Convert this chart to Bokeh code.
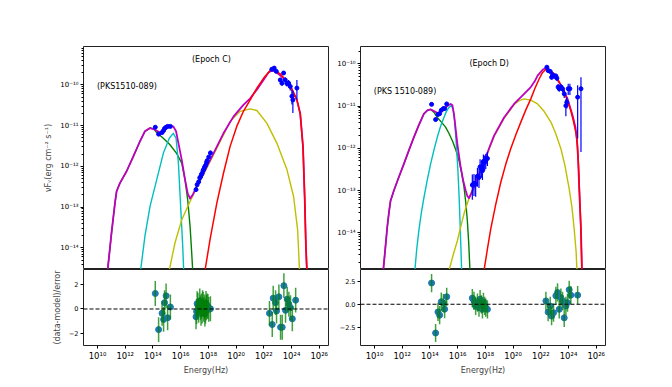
import numpy as np
from bokeh.plotting import figure
from bokeh.layouts import row, column
from bokeh.models import (FixedTicker, CustomJSTickFormatter, Label, Span, Range1d)
from bokeh.embed import file_html
from bokeh.resources import INLINE

FONT = "DejaVu Sans"

# ---------------- Epoch C (left) : model curves, log10(nu) / log10(nuFnu)
c_tot_x = [10.73, 11.01, 11.26, 11.38, 11.62, 12.10, 12.58, 13.06, 13.42, 13.79, 14.15, 14.51,
           14.87, 15.23, 15.47, 15.67, 15.84, 16.08, 16.32, 16.51, 16.68, 16.87, 17.16, 17.64,
           18.37, 19.09, 19.81, 20.53, 21.02, 21.50, 21.98, 22.34, 22.58, 22.82, 23.43, 23.91,
           24.39, 24.63, 24.83, 24.95, 25.04, 25.11]
c_tot_y = [-14.55, -13.64, -12.90, -12.61, -12.41, -12.12, -11.76, -11.39, -11.14, -11.06, -11.10,
           -11.17, -11.06, -11.02, -11.02, -11.14, -11.43, -11.84, -12.33, -12.66, -12.79, -12.70,
           -12.49, -12.17, -11.68, -11.19, -10.78, -10.49, -10.33, -10.12, -9.88, -9.70, -9.65,
           -9.67, -9.84, -10.04, -10.37, -10.70, -11.51, -12.74, -13.96, -14.55]
c_syn_x = [10.73, 11.01, 11.26, 11.38, 11.62, 12.10, 12.58, 13.06, 13.42, 13.79, 14.05, 14.27,
           14.75, 15.23, 15.71, 16.08, 16.32, 16.51, 16.68, 16.80, 16.87]
c_syn_y = [-14.55, -13.64, -12.90, -12.61, -12.41, -12.12, -11.76, -11.39, -11.14, -11.06, -11.08,
           -11.17, -11.31, -11.47, -11.68, -11.92, -12.33, -12.82, -13.47, -14.13, -14.55]
c_disk_x = [13.11, 13.42, 13.79, 14.27, 14.75, 15.18, 15.47, 15.67, 15.84, 16.00, 16.15, 16.22]
c_disk_y = [-14.55, -13.72, -12.98, -12.33, -11.68, -11.31, -11.19, -11.31, -11.92, -12.98, -13.96,
            -14.55]
c_ssc_x = [15.18, 15.59, 16.08, 16.63, 17.16, 17.64, 18.37, 19.09, 19.57, 20.29, 21.02, 21.50,
           22.22, 22.94, 23.67, 24.15, 24.44, 24.58]
c_ssc_y = [-14.55, -13.88, -13.31, -12.90, -12.52, -12.21, -11.72, -11.23, -10.90, -10.65, -10.59,
           -10.63, -10.94, -11.43, -12.08, -12.74, -13.55, -14.55]
c_ec_x = [17.76, 18.12, 18.61, 19.09, 19.57, 20.05, 20.53, 21.02, 21.50, 21.98, 22.46, 22.70,
          23.19, 23.91, 24.39, 24.63, 24.83, 24.95, 25.04, 25.11]
c_ec_y = [-14.55, -13.80, -12.90, -12.17, -11.51, -11.02, -10.65, -10.37, -10.08, -9.84, -9.65,
          -9.63, -9.73, -10.02, -10.37, -10.72, -11.53, -12.76, -13.97, -14.55]

# Epoch C data points
c_dat_x = [14.17, 14.41, 14.66, 14.77, 14.84, 14.95, 15.06, 15.26,
           17.11, 17.19, 17.30, 17.38, 17.43, 17.50, 17.55, 17.62, 17.67, 17.72, 17.79, 17.86,
           17.91, 18.03, 18.15,
           22.58, 22.75, 22.90, 23.19, 23.43, 23.31, 23.55, 23.67, 23.79, 23.91, 24.03, 24.10,
           24.39]
c_dat_y = [-11.04, -11.21, -11.17, -11.12, -11.07, -11.04, -11.02, -11.02,
           -12.57, -12.45, -12.38, -12.28, -12.26, -12.20, -12.17, -12.10, -12.07, -12.02, -11.98,
           -11.91, -11.86, -11.77, -11.67,
           -9.62, -9.59, -9.67, -9.88, -9.71, -9.96, -9.88, -9.97, -9.96, -10.04, -10.28, -10.37,
           -10.08]
c_dat_elo = [0.03] * 8 + [0.05] * 15 + \
            [0.04, 0.04, 0.04, 0.05, 0.05, 0.06, 0.06, 0.07, 0.08, 0.10, 0.20, 0.32, 0.28]
c_dat_ehi = [0.03] * 8 + [0.05] * 15 + \
            [0.04, 0.04, 0.04, 0.05, 0.05, 0.06, 0.06, 0.07, 0.08, 0.10, 0.15, 0.22, 0.20]

# Epoch C residuals
c_res_x = [14.17, 14.41, 14.66, 14.77, 14.84, 14.95, 15.06, 15.26,
           17.11, 17.15, 17.19, 17.25, 17.30, 17.38, 17.43, 17.47, 17.50, 17.55, 17.58, 17.62,
           17.67, 17.72, 17.75, 17.79, 17.83, 17.86, 17.91, 17.97, 18.03, 18.15,
           22.41, 22.61, 22.68, 22.85, 22.92, 23.09, 23.21, 23.33, 23.45, 23.57, 23.69, 23.81,
           23.93, 24.06, 24.30]
c_res_y = [1.25, -1.66, -0.35, -0.84, 0.51, 1.06, -0.71, 0.16,
           -0.63, -0.20, 0.43, 0.30, -0.11, 0.65, 0.10, -0.35, 0.24, -0.16, 0.50, 0.38,
           -0.03, 0.16, -0.40, -0.16, 0.45, 0.10, 0.24, 0.20, -0.03, 0.02,
           -0.35, -1.25, 0.87, 0.51, -0.16, 0.98, -1.47, -1.47, 1.88, -0.11, 0.79, 0.38,
           0.10, -0.79, 0.71]

# ---------------- Epoch D (right)
d_tot_x = [10.63, 10.80, 10.92, 11.05, 11.16, 11.40, 11.76, 12.12, 12.48, 12.84, 13.20, 13.57,
           13.82, 14.05, 14.30, 14.58, 14.80, 15.01, 15.25, 15.50, 15.62, 15.73, 15.85, 15.98,
           16.22, 16.40, 16.58, 16.70, 16.82, 16.94, 17.18, 17.54, 17.90, 18.27, 18.63, 19.35,
           20.07, 20.80, 21.28, 21.55, 21.77, 22.13, 22.36, 22.55, 22.73, 23.03, 23.33, 23.63,
           23.93, 24.30, 24.50, 24.61, 24.70, 24.77, 24.90, 24.97]
d_tot_y = [-14.90, -14.30, -13.87, -13.50, -13.24, -13.00, -12.68, -12.37, -12.05, -11.74, -11.45,
           -11.18, -11.10, -11.08, -11.12, -11.17, -11.12, -11.07, -11.00, -10.95, -10.98, -11.18,
           -11.52, -11.90, -12.45, -12.76, -13.00, -13.13, -13.18, -13.10, -12.92, -12.62, -12.33,
           -12.00, -11.70, -11.27, -10.95, -10.71, -10.55, -10.42, -10.28, -10.14, -10.10, -10.12,
           -10.18, -10.30, -10.44, -10.62, -10.83, -11.23, -11.50, -11.78, -12.30, -12.96, -13.91,
           -14.90]
d_syn_x = [10.63, 10.80, 10.92, 11.05, 11.16, 11.40, 11.76, 12.12, 12.48, 12.84, 13.20, 13.57,
           13.82, 14.05, 14.30, 14.53, 14.83, 15.13, 15.38, 15.62, 15.86, 16.10, 16.28, 16.46,
           16.58, 16.70, 16.80, 16.89]
d_syn_y = [-14.90, -14.30, -13.87, -13.50, -13.24, -13.00, -12.68, -12.37, -12.05, -11.74, -11.45,
           -11.18, -11.10, -11.08, -11.15, -11.27, -11.38, -11.50, -11.65, -11.82, -12.03, -12.29,
           -12.57, -12.92, -13.26, -13.71, -14.25, -14.90]
d_disk_x = [12.91, 13.05, 13.20, 13.38, 13.57, 13.81, 14.05, 14.29, 14.53, 14.77, 15.01, 15.20,
            15.37, 15.55, 15.67, 15.78, 15.90, 16.02, 16.10, 16.17, 16.29]
d_disk_y = [-14.90, -14.38, -13.95, -13.53, -13.16, -12.75, -12.37, -12.04, -11.74, -11.48, -11.27,
            -11.12, -11.03, -10.99, -11.08, -11.34, -11.88, -12.53, -13.10, -13.71, -14.90]
d_ssc_x = [15.37, 15.68, 15.98, 16.22, 16.46, 16.70, 16.94, 17.42, 17.90, 18.27, 18.63, 19.35,
           20.07, 20.45, 20.80, 21.28, 21.77, 22.25, 22.73, 23.09, 23.45, 23.75, 24.05, 24.25,
           24.41, 24.55, 24.61]
d_ssc_y = [-14.90, -14.52, -14.19, -13.86, -13.55, -13.30, -13.08, -12.70, -12.35, -12.02, -11.72,
           -11.29, -10.97, -10.87, -10.83, -10.86, -10.95, -11.13, -11.38, -11.66, -12.01, -12.42,
           -12.96, -13.40, -13.91, -14.45, -14.90]
d_ec_x = [17.90, 18.15, 18.39, 18.75, 19.11, 19.47, 19.83, 20.20, 20.56, 20.92, 21.28, 21.58,
          21.88, 22.12, 22.36, 22.60, 22.97, 23.33, 23.69, 23.93, 24.17, 24.35, 24.53, 24.65,
          24.75, 24.88, 24.97]
d_ec_y = [-14.90, -14.38, -13.91, -13.33, -12.81, -12.38, -12.01, -11.68, -11.38, -11.09, -10.83,
          -10.58, -10.36, -10.21, -10.13, -10.14, -10.24, -10.43, -10.67, -10.88, -11.11, -11.35,
          -11.62, -11.95, -12.60, -13.80, -14.90]

d_dat_x = [14.12, 14.41, 14.58, 14.70, 14.82, 14.97, 15.06, 15.21,
           17.06, 17.18, 17.30, 17.43, 17.54, 17.62, 17.71, 17.79, 17.86, 17.95, 18.03, 18.15,
           22.44, 22.53, 22.68, 22.78, 22.85, 22.97, 23.09, 23.16, 23.25, 23.33, 23.45, 23.57,
           23.69, 23.81, 23.88, 23.98, 24.10, 24.66, 24.90]
d_dat_y = [-10.96, -11.32, -11.20, -11.18, -11.10, -11.06, -11.06, -10.95,
           -12.87, -12.83, -12.85, -12.66, -12.69, -12.44, -12.48, -12.53, -12.31, -12.33, -12.29,
           -12.24,
           -10.08, -10.16, -10.18, -10.32, -10.26, -10.29, -10.29, -10.34, -10.55, -10.59, -10.55,
           -10.59, -10.71, -10.99, -10.91, -10.59, -10.59, -10.79, -10.59]
d_dat_elo = [0.03] * 8 + [0.35, 0.30, 0.30, 0.25, 0.25, 0.22, 0.22, 0.22, 0.20, 0.20, 0.20, 0.18] + \
            [0.04, 0.04, 0.05, 0.05, 0.05, 0.05, 0.06, 0.06, 0.07, 0.07, 0.08, 0.08, 0.10, 0.25,
             0.15, 0.15, 0.15, 0.98, 1.50]
d_dat_ehi = [0.03] * 8 + [0.25, 0.22, 0.22, 0.20, 0.20, 0.18, 0.18, 0.18, 0.16, 0.16, 0.16, 0.15] + \
            [0.04, 0.04, 0.05, 0.05, 0.05, 0.05, 0.06, 0.06, 0.07, 0.07, 0.08, 0.08, 0.10, 0.15,
             0.12, 0.12, 0.12, 0.28, 0.27]

d_res_x = [14.12, 14.41, 14.58, 14.70, 14.82, 14.97, 15.06, 15.21,
           17.06, 17.18, 17.30, 17.43, 17.54, 17.62, 17.71, 17.79, 17.86, 17.95, 18.03, 18.15,
           22.37, 22.53, 22.68, 22.78, 22.92, 23.09, 23.21, 23.33, 23.45, 23.57, 23.69, 23.81,
           23.93, 24.05, 24.17, 24.66]
d_res_y = [2.33, -3.15, -0.84, -1.20, 0.28, 0.13, -0.54, 0.82,
           0.67, 0.37, -0.19, 0.18, -0.37, 0.55, 0.00, -0.56, 0.26, -0.19, -0.37, -0.56,
           0.37, -0.86, -0.19, -1.30, -0.93, 0.92, 1.29, -0.56, 0.73, 0.37, -1.49, -0.19,
           0.18, 1.59, 1.00, 1.00]

X_EXP = (8.99, 26.67)
C_YEXP = (-14.53, -9.06)
D_YEXP = (-14.87, -9.59)
C_RES = (-2.94, 3.18)
D_RES = (-4.52, 3.81)

SUP = """
const s = {'0':'\u2070','1':'\u00b9','2':'\u00b2','3':'\u00b3','4':'\u2074','5':'\u2075',
           '6':'\u2076','7':'\u2077','8':'\u2078','9':'\u2079','-':'\u207b'};
const e = Math.round(Math.log10(tick));
return '10' + String(e).split('').map(c => s[c]).join('');
"""

COL = dict(tot="#bf00bf", syn="#008000", disk="#00bfbf", ssc="#bfbf00", ec="#ff0000")
LW = dict(tot=1.8, syn=1.4, disk=1.4, ssc=1.4, ec=1.5)


def style_axis(ax, size):
    ax.major_label_text_font = FONT
    ax.major_label_text_font_size = size
    ax.major_label_text_color = "black"
    ax.axis_label_text_font = FONT
    ax.axis_label_text_font_size = "8px"
    ax.axis_label_text_font_style = "normal"
    ax.axis_line_color = None
    ax.major_tick_in = 0
    ax.major_tick_out = 3
    ax.minor_tick_in = 0
    ax.minor_tick_out = 2
    ax.major_tick_line_color = "black"
    ax.minor_tick_line_color = "black"
    ax.major_label_standoff = 2


def upper(curves, dx, dy, elo, ehi, yexp, texts, width, bl, br, ylabel):
    xr = Range1d(10 ** X_EXP[0], 10 ** X_EXP[1])
    p = figure(width=width, height=269, x_axis_type="log", y_axis_type="log",
               x_range=xr, y_range=Range1d(10 ** yexp[0], 10 ** yexp[1]),
               output_backend="svg", toolbar_location=None,
               min_border_left=bl, min_border_right=br, min_border_top=46, min_border_bottom=0)
    p.xaxis.visible = False
    p.grid.visible = False
    p.outline_line_color = "#222222"
    p.outline_line_width = 1
    for key in ["syn", "disk", "ssc", "tot", "ec"]:
        xs, ys = curves[key]
        p.line(10 ** np.array(xs), 10 ** np.array(ys), line_color=COL[key], line_width=LW[key],
               line_join="round")
    dx = np.array(dx); dy = np.array(dy)
    p.segment(10 ** dx, 10 ** (dy - np.array(elo)), 10 ** dx, 10 ** (dy + np.array(ehi)),
              line_color="#0000ff", line_width=1.2)
    p.scatter(10 ** dx, 10 ** dy, size=4, color="#0000ff")
    majors = [10.0 ** k for k in range(-16, -8)]
    minors = [m * 10.0 ** k for k in range(-16, -8) for m in range(2, 10)]
    p.yaxis.ticker = FixedTicker(ticks=majors, minor_ticks=minors)
    p.yaxis.formatter = CustomJSTickFormatter(code=SUP)
    style_axis(p.yaxis[0], "7px")
    p.yaxis.axis_label = ylabel
    p.yaxis.axis_label_standoff = 4
    for (tx, ty, txt, align) in texts:
        p.add_layout(Label(x=10 ** tx, y=10 ** ty, text=txt, text_font=FONT,
                           text_font_size="8px", text_align=align, text_baseline="middle",
                           text_color="black"))
    return p, xr


def lower(xr, rx, ry, rrange, ticks, labels, width, bl, br, ylabel):
    p = figure(width=width, height=110, x_axis_type="log", x_range=xr,
               y_range=Range1d(*rrange), output_backend="svg", toolbar_location=None,
               min_border_left=bl, min_border_right=br, min_border_top=0, min_border_bottom=34)
    p.grid.visible = False
    p.outline_line_color = "#222222"
    p.outline_line_width = 1
    p.add_layout(Span(location=0, dimension="width", line_color="black",
                      line_dash="4 2", line_width=1))
    rx = 10 ** np.array(rx); ry = np.array(ry)
    p.scatter(rx, ry, size=6, color="#1f77b4")
    p.segment(rx, ry - 1, rx, ry + 1, line_color="green", line_width=1.5, line_alpha=0.75)
    p.xaxis.ticker = FixedTicker(ticks=[10.0 ** k for k in range(8, 28, 2)])
    p.xaxis.formatter = CustomJSTickFormatter(code=SUP)
    style_axis(p.xaxis[0], "8.5px")
    p.xaxis.axis_label = "Energy(Hz)"
    p.xaxis.axis_label_standoff = 2
    p.yaxis.ticker = FixedTicker(ticks=ticks)
    p.yaxis.major_label_overrides = labels
    style_axis(p.yaxis[0], "6.5px")
    p.yaxis.axis_label = ylabel
    p.yaxis.axis_label_standoff = 4
    return p


c_curves = dict(tot=(c_tot_x, c_tot_y), syn=(c_syn_x, c_syn_y), disk=(c_disk_x, c_disk_y),
                ssc=(c_ssc_x, c_ssc_y), ec=(c_ec_x, c_ec_y))
d_curves = dict(tot=(d_tot_x, d_tot_y), syn=(d_syn_x, d_syn_y), disk=(d_disk_x, d_disk_y),
                ssc=(d_ssc_x, d_ssc_y), ec=(d_ec_x, d_ec_y))

c_texts = [(18.22, -9.38, "(Epoch C)", "center"), (9.96, -10.04, "(PKS1510-089)", "left")]
d_texts = [(18.27, -9.99, "(Epoch D)", "center"), (9.95, -10.65, "(PKS 1510-089)", "left")]

WL, BL_L, BR_L = 330, 83, 2
WR, BL_R, BR_R = 295, 30, 20

pcu, xrc = upper(c_curves, c_dat_x, c_dat_y, c_dat_elo, c_dat_ehi, C_YEXP, c_texts,
                 WL, BL_L, BR_L, "\u03bdF\u1d65(erg cm\u207b\u00b2 s\u207b\u00b9)")
pcl = lower(xrc, c_res_x, c_res_y, C_RES, [-2, 0, 2], {-2: "\u22122", 0: "0", 2: "2"},
            WL, BL_L, BR_L, "(data-model)/error")
pdu, xrd = upper(d_curves, d_dat_x, d_dat_y, d_dat_elo, d_dat_ehi, D_YEXP, d_texts,
                 WR, BL_R, BR_R, "")
pdl = lower(xrd, d_res_x, d_res_y, D_RES, [-2.5, 0, 2.5],
            {-2.5: "\u22122.5", 0: "0.0", 2.5: "2.5"}, WR, BL_R, BR_R, "")

layout = row(column(pcu, pcl), column(pdu, pdl))
open("out.html", "w").write(file_html(layout, INLINE))
